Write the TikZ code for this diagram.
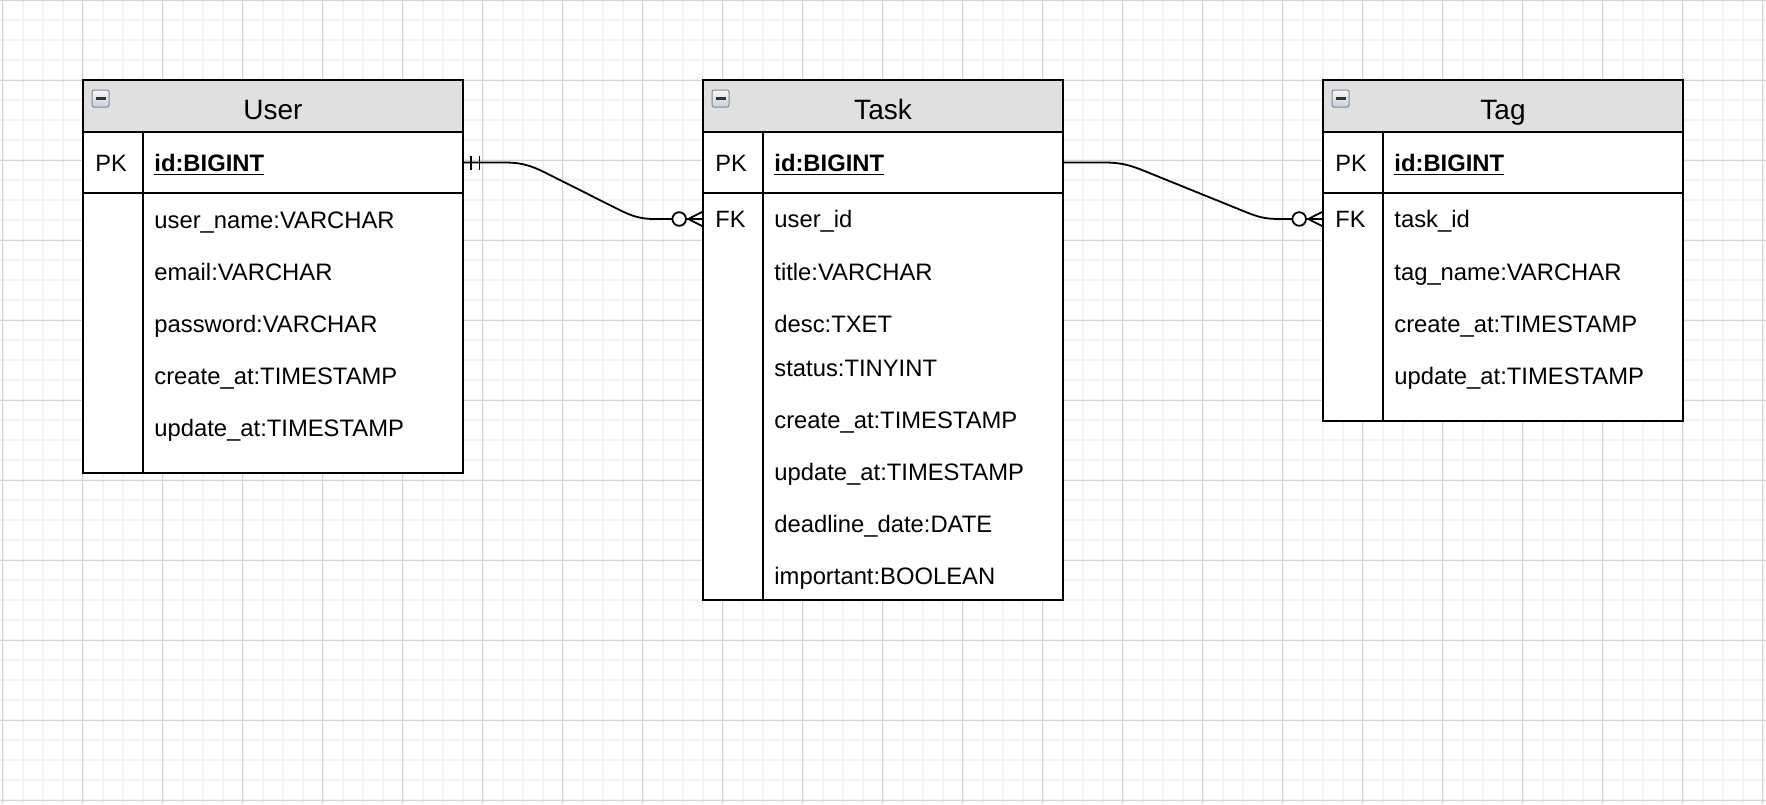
\documentclass[tikz,border=0pt]{standalone}
\usepackage{fontspec}
\setmainfont{Liberation Sans}
\usetikzlibrary{calc}
\definecolor{hdrgray}{HTML}{E0E0E0}
\definecolor{gridminor}{HTML}{F3F3F3}
\definecolor{gridmajor}{HTML}{D4D4D4}
\definecolor{iconborder}{HTML}{7D8A96}
\definecolor{icontop}{HTML}{F6F8FA}
\definecolor{iconbot}{HTML}{C9D1D9}
\tikzset{
  frame/.style={draw=black, line width=1pt},
  ttl/.style={font=\fontsize{14}{16}\selectfont, anchor=base, inner sep=0pt},
  keytxt/.style={font=\fontsize{11.8}{13}\selectfont, anchor=base west, inner sep=0pt},
  fld/.style={font=\fontsize{11.9}{13}\selectfont, anchor=base west, inner sep=0pt},
  rowanchor/.style={inner sep=0pt, outer sep=0pt, anchor=north west},
  conn/.style={draw=black, line width=0.9pt},
  minorgrid/.style={draw=gridminor, line width=0.8pt},
  majorgrid/.style={draw=gridmajor, line width=0.5pt},
  collapse/.style={draw=iconborder, line width=0.5pt, rounded corners=1pt, top color=icontop, bottom color=iconbot}
}
\begin{document}
\begin{tikzpicture}[x=0.5pt,y=-0.5pt]
\useasboundingbox (0,0) rectangle (1766,804);
\fill[white] (0,0) rectangle (1766,804);
% grid
\foreach \x in {2.7,22.7,...,1766} \draw[minorgrid] (\x,0) -- (\x,804);
\foreach \y in {0,20,...,804} \draw[minorgrid] (0,\y) -- (1766,\y);
\foreach \x in {2.7,82.7,...,1766} \draw[majorgrid] (\x,0) -- (\x,804);
\foreach \y in {0,80,...,804} \draw[majorgrid] (0,\y) -- (1766,\y);

% ---------- User ----------
\fill[white] (83,80) rectangle (463,473);
\fill[hdrgray] (83,80) rectangle (463,132);
\draw[frame] (83,132) -- (463,132);
\draw[frame] (83,192.5) -- (463,192.5);
\draw[frame] (143,132) -- (143,473);
\draw[frame] (83,80) rectangle (463,473);
\draw[collapse] (92,90) rectangle (109,107);
\draw[line width=1.3pt, draw=black!80] (95.5,98.5) -- (105.5,98.5);
\node[rowanchor, minimum width=190pt, minimum height=30pt] (userpkrow) at (83,132.5) {};
\node[ttl] (usertitle) at (273,119) {User};
\node[keytxt] (userpk) at (95,171.7) {PK};
\node[fld] (userid) at (154,171.7) {\textbf{\underline{id:BIGINT}}};
\node[fld] (username) at (154,228) {user\_name:VARCHAR};
\node[fld] (useremail) at (154,280) {email:VARCHAR};
\node[fld] (userpass) at (154,332) {password:VARCHAR};
\node[fld] (usercreate) at (154,384) {create\_at:TIMESTAMP};
\node[fld] (userupdate) at (154,436) {update\_at:TIMESTAMP};

% ---------- Task ----------
\fill[white] (703,80) rectangle (1063,600);
\fill[hdrgray] (703,80) rectangle (1063,132);
\draw[frame] (703,132) -- (1063,132);
\draw[frame] (703,192.5) -- (1063,192.5);
\draw[frame] (763,132) -- (763,600);
\draw[frame] (703,80) rectangle (1063,600);
\draw[collapse] (712,90) rectangle (729,107);
\draw[line width=1.3pt, draw=black!80] (715.5,98.5) -- (725.5,98.5);
\node[rowanchor, minimum width=180pt, minimum height=30pt] (taskpkrow) at (703,132.5) {};
\node[rowanchor, minimum width=180pt, minimum height=26.5pt] (taskfkrow) at (703,192.5) {};
\node[ttl] (tasktitle) at (883,119) {Task};
\node[keytxt] (taskpk) at (715,171.7) {PK};
\node[fld] (taskid) at (774,171.7) {\textbf{\underline{id:BIGINT}}};
\node[keytxt] (taskfk) at (715,227.5) {FK};
\node[fld] (taskuser) at (774,227.5) {user\_id};
\node[fld] (tasktitlef) at (774,280) {title:VARCHAR};
\node[fld] (taskdesc) at (774,332) {desc:TXET};
\node[fld] (taskstatus) at (774,376) {status:TINYINT};
\node[fld] (taskcreate) at (774,428) {create\_at:TIMESTAMP};
\node[fld] (taskupdate) at (774,480) {update\_at:TIMESTAMP};
\node[fld] (taskdead) at (774,532) {deadline\_date:DATE};
\node[fld] (taskimp) at (774,584) {important:BOOLEAN};

% ---------- Tag ----------
\fill[white] (1323,80) rectangle (1683,421);
\fill[hdrgray] (1323,80) rectangle (1683,132);
\draw[frame] (1323,132) -- (1683,132);
\draw[frame] (1323,192.5) -- (1683,192.5);
\draw[frame] (1383,132) -- (1383,421);
\draw[frame] (1323,80) rectangle (1683,421);
\draw[collapse] (1332,90) rectangle (1349,107);
\draw[line width=1.3pt, draw=black!80] (1335.5,98.5) -- (1345.5,98.5);
\node[rowanchor, minimum width=180pt, minimum height=26.5pt] (tagfkrow) at (1323,192.5) {};
\node[ttl] (tagtitle) at (1503,119) {Tag};
\node[keytxt] (tagpk) at (1335,171.7) {PK};
\node[fld] (tagid) at (1394,171.7) {\textbf{\underline{id:BIGINT}}};
\node[keytxt] (tagfk) at (1335,227.5) {FK};
\node[fld] (tagtask) at (1394,227.5) {task\_id};
\node[fld] (tagname) at (1394,280) {tag\_name:VARCHAR};
\node[fld] (tagcreate) at (1394,332) {create\_at:TIMESTAMP};
\node[fld] (tagupdate) at (1394,384) {update\_at:TIMESTAMP};

% ---------- connectors ----------
% User -> Task
\draw[conn] (userpkrow.east) -- (505,162.5) .. controls (520,162.5) and (530,165) .. (545,172.5)
  -- (620,210.2) .. controls (632,216) and (640,219) .. (655,219) -- (taskfkrow.west);
\draw[conn] ($(userpkrow.east)+(8,-7)$) -- ++(0,14);
\draw[conn] ($(userpkrow.east)+(16.5,-7)$) -- ++(0,14);
\draw[conn, fill=white] ($(taskfkrow.west)+(-23.8,0)$) circle[radius=3.4pt];
\draw[conn] ($(taskfkrow.west)+(0,-7.5)$) -- ($(taskfkrow.west)+(-14.7,0)$) -- ($(taskfkrow.west)+(0,7.5)$);

% Task -> Tag
\draw[conn] (taskpkrow.east) -- (1105,162.5) .. controls (1120,162.5) and (1130,165) .. (1145,171.2)
  -- (1245,211.7) .. controls (1258,217) and (1265,219) .. (1280,219) -- (tagfkrow.west);
\draw[conn, fill=white] ($(tagfkrow.west)+(-23.8,0)$) circle[radius=3.4pt];
\draw[conn] ($(tagfkrow.west)+(0,-7.5)$) -- ($(tagfkrow.west)+(-14.7,0)$) -- ($(tagfkrow.west)+(0,7.5)$);
\end{tikzpicture}
\end{document}
